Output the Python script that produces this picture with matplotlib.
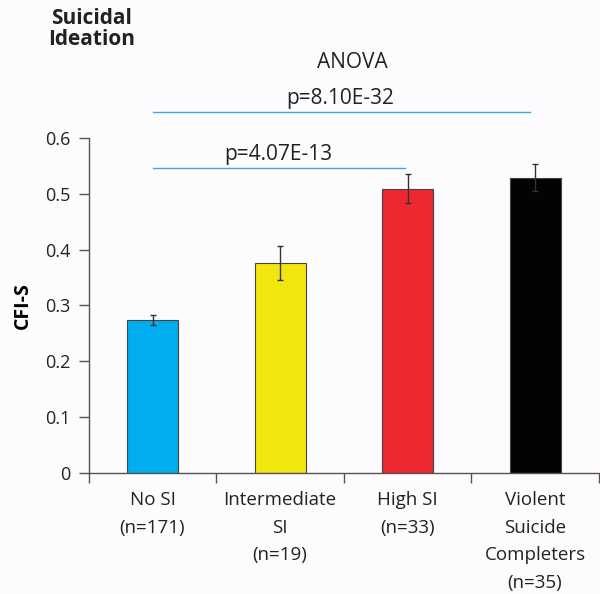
import matplotlib.pyplot as plt
from matplotlib.ticker import FixedLocator

plt.rcParams['font.family'] = ['Open Sans', 'DejaVu Sans']

# data
groups = ["No SI\n(n=171)", "Intermediate\nSI\n(n=19)", "High SI\n(n=33)",
          "Violent\nSuicide\nCompleters\n(n=35)"]
cfi_s = [0.274, 0.376, 0.509, 0.529]
sem = [0.009, 0.030, 0.026, 0.024]
colors = ["#00AEEF", "#F1E70E", "#EC2830", "#030303"]

fig = plt.figure(figsize=(6.0, 5.94), dpi=100, facecolor="#fcfcfe")
ax = fig.add_axes([0.148, 0.2037, 0.85, 0.564])
ax.set_facecolor("#fcfcfe")

x = list(range(len(groups)))
ax.bar(x, cfi_s, width=0.4, color=colors, edgecolor="#4a4040", linewidth=0.8,
       zorder=2)
ax.errorbar(x, cfi_s, yerr=sem, fmt="none", ecolor="#333333", elinewidth=1,
            capsize=2, capthick=1, zorder=3)

ax.set_xlim(-0.5, 3.5)
ax.set_ylim(0, 0.6)
ax.set_yticks([0, 0.1, 0.2, 0.3, 0.4, 0.5, 0.6])
ax.set_yticklabels(["0", "0.1", "0.2", "0.3", "0.4", "0.5", "0.6"])
ax.set_xticks(x)
ax.set_xticklabels(groups, fontsize=13.5, color="#222222", linespacing=1.68,
                   va="top")
ax.xaxis.set_minor_locator(FixedLocator([-0.5, 0.5, 1.5, 2.5, 3.5]))
ax.tick_params(axis="x", which="major", length=0, pad=13)
ax.tick_params(axis="x", which="minor", length=7, width=1, color="#5a5050",
               direction="out")
ax.tick_params(axis="y", length=7, width=1, color="#5a5050", labelsize=13,
               labelcolor="#222222", pad=6)

for side in ["top", "right"]:
    ax.spines[side].set_visible(False)
for side in ["left", "bottom"]:
    ax.spines[side].set_color("#5a5050")
    ax.spines[side].set_linewidth(1)

ax.set_ylabel("CFI-S", fontsize=14, fontweight="bold", labelpad=9)

# significance annotations
line_col = "#3DA8E0"
ax.plot([0, 2.96], [0.647, 0.647], color=line_col, lw=1, clip_on=False)
ax.plot([0, 1.98], [0.547, 0.547], color=line_col, lw=1, clip_on=False)
ax.text(1.57, 0.735, "ANOVA", fontsize=15, ha="center", va="center",
        color="#222222")
ax.text(1.47, 0.67, "p=8.10E-32", fontsize=15, ha="center", va="center",
        color="#222222")
ax.text(0.99, 0.57, "p=4.07E-13", fontsize=15, ha="center", va="center",
        color="#222222")

fig.text(0.152, 0.951, "Suicidal\nIdeation", fontsize=15, fontweight="bold",
         ha="center", va="center", linespacing=1.0, color="#222222")

fig.savefig("out.png", dpi=100, facecolor=fig.get_facecolor())
